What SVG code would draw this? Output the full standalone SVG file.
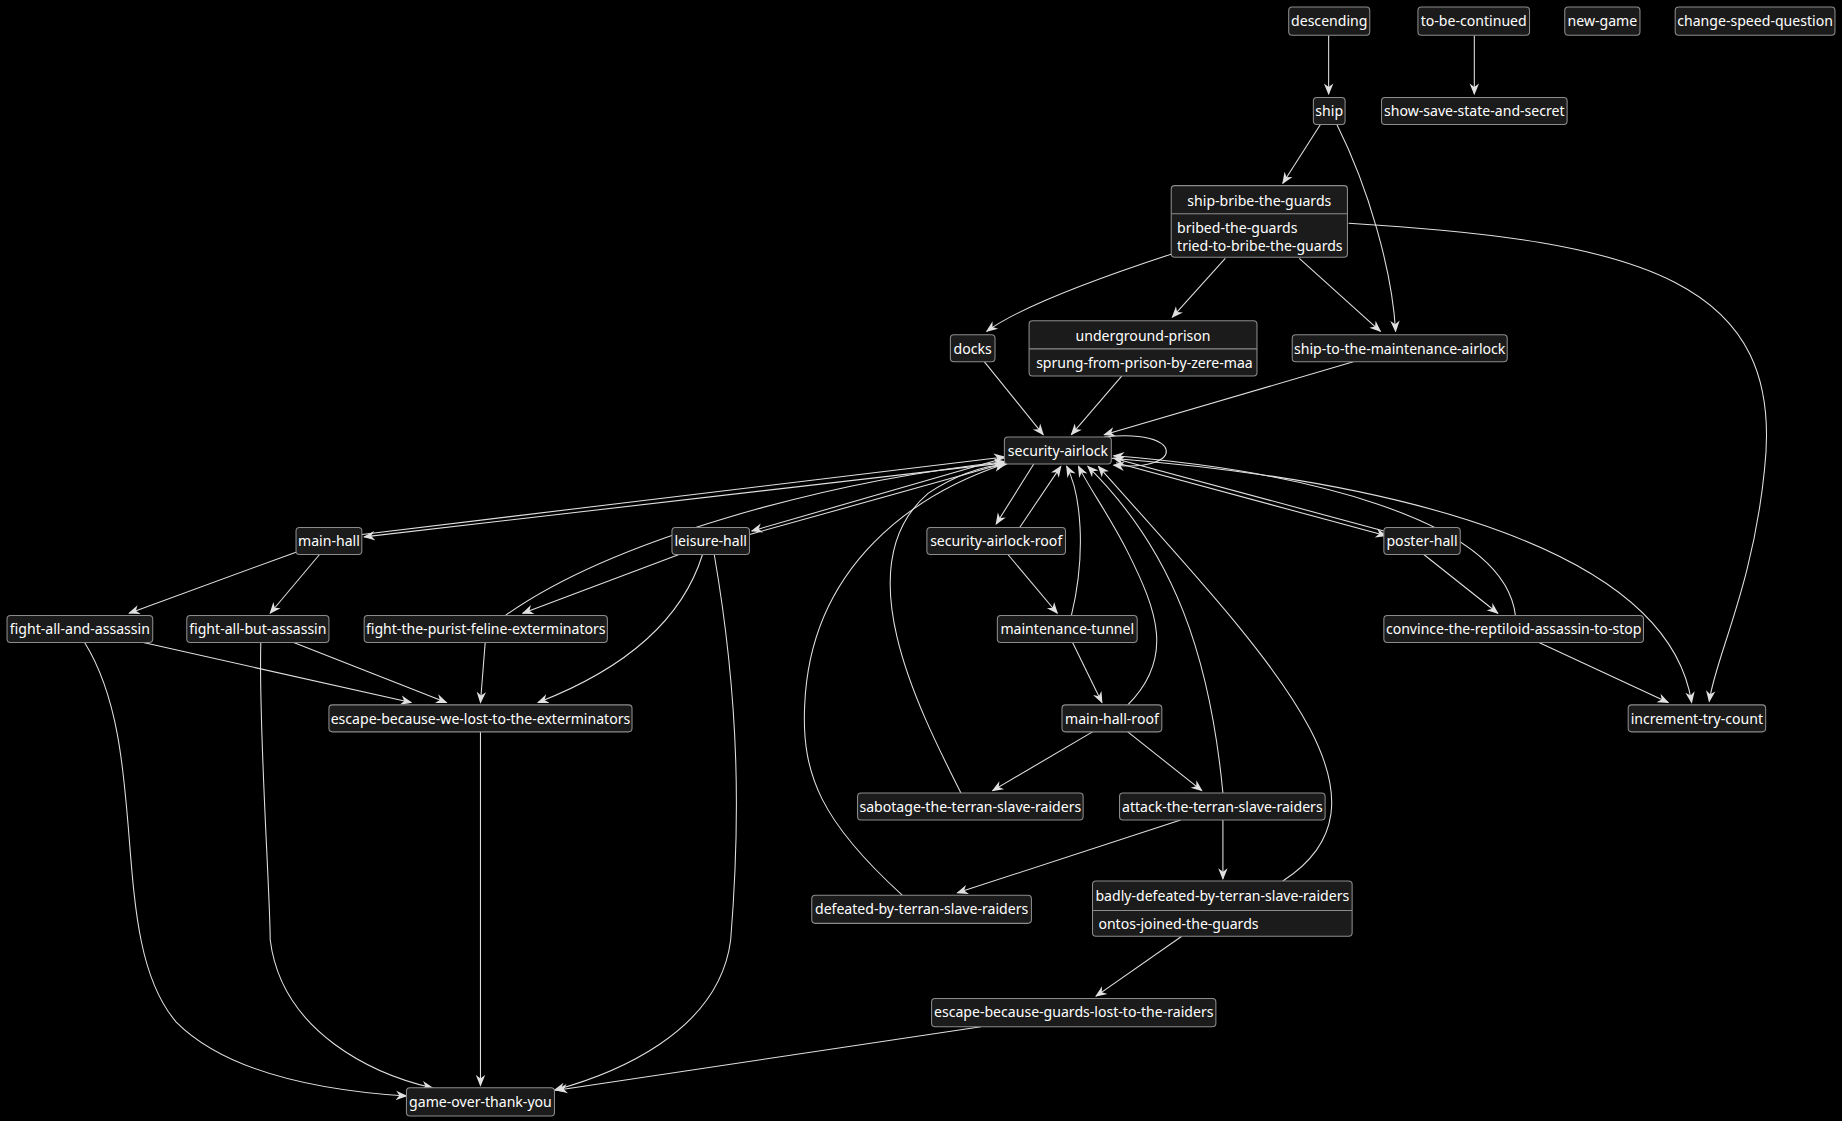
<svg xmlns="http://www.w3.org/2000/svg" width="1842" height="1121" viewBox="0 0 1842 1121">
<style>
.n rect{fill:#1b1b1b;stroke:#8c8c8c;stroke-width:0.9}
.n line{stroke:#8c8c8c;stroke-width:0.9}
.n text{fill:#ffffff;font-family:"Noto Sans","DejaVu Sans",sans-serif;font-size:12px}
.c{text-anchor:middle}
#edges path{fill:none;stroke:#e0e0e0;stroke-width:0.9;marker-end:url(#a)}
</style>
<defs>
<marker id="a" viewBox="0 0 10 10" refX="9" refY="5" markerWidth="10" markerHeight="10" markerUnits="userSpaceOnUse" orient="auto">
<path d="M0,1 L10,5 L0,9 L3,5 Z" fill="#e0e0e0"/>
</marker>
</defs>
<rect width="1842" height="1121" fill="#000"/>
<g transform="scale(1.17475)">
<g id="edges">
<path d="M1131,30 L1131,80"/>
<path d="M1255,30 L1255,80"/>
<path d="M1124,106 L1092,156"/>
<path d="M1138,106 C1165,160 1185,230 1188,282"/>
<path d="M998,216 C940,235 870,260 840,282"/>
<path d="M1043,220 L998,270"/>
<path d="M1106,220 L1175,282"/>
<path d="M1148,190 C1400,205 1520,240 1502,400 C1492,500 1460,560 1455,597"/>
<path d="M838,308 L888,370"/>
<path d="M955,320 L912,370"/>
<path d="M1152,308 L940,370"/>
<path d="M940,372 C1008,364 1010,402 948,396"/>
<path d="M308,455 L855,389"/>
<path d="M855,394 L310,457"/>
<path d="M638,455 L857,394"/>
<path d="M858,389 L640,452"/>
<path d="M880,395 L848,446"/>
<path d="M868,449 L903,397"/>
<path d="M1178,452 L948,390"/>
<path d="M950,394 L1180,456"/>
<path d="M252,470 L110,522"/>
<path d="M272,472 L230,522"/>
<path d="M578,472 L445,522"/>
<path d="M598,472 C580,530 530,570 458,598"/>
<path d="M608,472 C630,600 630,700 622,800 C612,880 520,915 472,928"/>
<path d="M430,524 C520,460 700,410 855,393"/>
<path d="M413,547 L409,598"/>
<path d="M122,547 L350,598"/>
<path d="M250,547 L380,598"/>
<path d="M72,547 C130,640 90,800 150,870 C200,920 300,930 346,933"/>
<path d="M222,547 C220,620 230,760 230,800 C240,880 320,915 368,926"/>
<path d="M409,623 L409,924"/>
<path d="M835,874 L474,928"/>
<path d="M858,472 L900,522"/>
<path d="M912,524 C925,470 920,420 908,397"/>
<path d="M913,547 L938,598"/>
<path d="M960,600 C1000,560 985,520 960,470 C945,440 930,420 918,397"/>
<path d="M930,623 L845,673"/>
<path d="M960,623 L1023,673"/>
<path d="M818,675 C780,600 720,480 790,420 C820,400 845,396 857,395"/>
<path d="M1041,675 C1030,560 1000,470 926,397"/>
<path d="M1005,698 L815,760"/>
<path d="M1041,698 L1041,748"/>
<path d="M768,762 C700,700 682,660 685,600 C690,480 780,420 855,395"/>
<path d="M1092,750 C1200,680 1080,560 935,397"/>
<path d="M1006,797 L933,848"/>
<path d="M1212,472 L1275,522"/>
<path d="M1290,524 C1280,440 1100,400 948,388"/>
<path d="M1310,547 L1420,598"/>
<path d="M946,390 C1200,410 1420,470 1440,598"/>
</g>
<g id="descending" class="n"><rect x="1097" y="6" width="69" height="24" rx="3"/><text x="1131.5" y="22.5" class="c">descending</text></g>
<g id="to-be-continued" class="n"><rect x="1207" y="6" width="95" height="24" rx="3"/><text x="1254.5" y="22.5" class="c">to-be-continued</text></g>
<g id="new-game" class="n"><rect x="1332" y="6" width="64" height="24" rx="3"/><text x="1364" y="22.5" class="c">new-game</text></g>
<g id="change-speed-question" class="n"><rect x="1426" y="6" width="136" height="24" rx="3"/><text x="1494" y="22.5" class="c">change-speed-question</text></g>
<g id="ship" class="n"><rect x="1118" y="83" width="27" height="23" rx="3"/><text x="1131.5" y="99" class="c">ship</text></g>
<g id="show-save-state-and-secret" class="n"><rect x="1176" y="83" width="158" height="23" rx="3"/><text x="1255" y="99" class="c">show-save-state-and-secret</text></g>
<g id="ship-bribe-the-guards" class="n"><rect x="997" y="158" width="150" height="61" rx="3"/><line x1="997" y1="182" x2="1147" y2="182"/><text x="1072" y="175" class="c">ship-bribe-the-guards</text><text x="1002" y="198">bribed-the-guards</text><text x="1002" y="214">tried-to-bribe-the-guards</text></g>
<g id="docks" class="n"><rect x="809" y="285" width="38" height="23" rx="3"/><text x="828" y="301" class="c">docks</text></g>
<g id="underground-prison" class="n"><rect x="876" y="273" width="194" height="47" rx="3"/><line x1="876" y1="297" x2="1070" y2="297"/><text x="973" y="290" class="c">underground-prison</text><text x="882" y="313">sprung-from-prison-by-zere-maa</text></g>
<g id="ship-to-the-maintenance-airlock" class="n"><rect x="1100" y="285" width="183" height="23" rx="3"/><text x="1191.5" y="301" class="c">ship-to-the-maintenance-airlock</text></g>
<g id="security-airlock" class="n"><rect x="855" y="372" width="91" height="23" rx="3"/><text x="900.5" y="388" class="c">security-airlock</text></g>
<g id="main-hall" class="n"><rect x="252" y="449" width="56" height="23" rx="3"/><text x="280" y="465" class="c">main-hall</text></g>
<g id="leisure-hall" class="n"><rect x="572" y="449" width="66" height="23" rx="3"/><text x="605" y="465" class="c">leisure-hall</text></g>
<g id="security-airlock-roof" class="n"><rect x="789" y="449" width="118" height="23" rx="3"/><text x="848" y="465" class="c">security-airlock-roof</text></g>
<g id="poster-hall" class="n"><rect x="1178" y="449" width="65" height="23" rx="3"/><text x="1210.5" y="465" class="c">poster-hall</text></g>
<g id="fight-all-and-assassin" class="n"><rect x="6" y="524" width="124" height="23" rx="3"/><text x="68" y="540" class="c">fight-all-and-assassin</text></g>
<g id="fight-all-but-assassin" class="n"><rect x="159" y="524" width="121" height="23" rx="3"/><text x="219.5" y="540" class="c">fight-all-but-assassin</text></g>
<g id="fight-the-purist-feline-exterminators" class="n"><rect x="310" y="524" width="207" height="23" rx="3"/><text x="413.5" y="540" class="c">fight-the-purist-feline-exterminators</text></g>
<g id="maintenance-tunnel" class="n"><rect x="849" y="524" width="119" height="23" rx="3"/><text x="908.5" y="540" class="c">maintenance-tunnel</text></g>
<g id="convince-the-reptiloid-assassin-to-stop" class="n"><rect x="1178" y="524" width="221" height="23" rx="3"/><text x="1288.5" y="540" class="c">convince-the-reptiloid-assassin-to-stop</text></g>
<g id="escape-because-we-lost-to-the-exterminators" class="n"><rect x="280" y="600" width="258" height="23" rx="3"/><text x="409" y="616" class="c">escape-because-we-lost-to-the-exterminators</text></g>
<g id="main-hall-roof" class="n"><rect x="904" y="600" width="85" height="23" rx="3"/><text x="946.5" y="616" class="c">main-hall-roof</text></g>
<g id="increment-try-count" class="n"><rect x="1386" y="600" width="117" height="23" rx="3"/><text x="1444.5" y="616" class="c">increment-try-count</text></g>
<g id="sabotage-the-terran-slave-raiders" class="n"><rect x="730" y="675" width="192" height="23" rx="3"/><text x="826" y="691" class="c">sabotage-the-terran-slave-raiders</text></g>
<g id="attack-the-terran-slave-raiders" class="n"><rect x="953" y="675" width="175" height="23" rx="3"/><text x="1040.5" y="691" class="c">attack-the-terran-slave-raiders</text></g>
<g id="defeated-by-terran-slave-raiders" class="n"><rect x="691" y="762" width="187" height="24" rx="3"/><text x="784.5" y="778" class="c">defeated-by-terran-slave-raiders</text></g>
<g id="badly-defeated-by-terran-slave-raiders" class="n"><rect x="930" y="750" width="221" height="47" rx="3"/><line x1="930" y1="775" x2="1151" y2="775"/><text x="1040.5" y="767" class="c">badly-defeated-by-terran-slave-raiders</text><text x="935" y="791">ontos-joined-the-guards</text></g>
<g id="escape-because-guards-lost-to-the-raiders" class="n"><rect x="793" y="850" width="242" height="24" rx="3"/><text x="914" y="866" class="c">escape-because-guards-lost-to-the-raiders</text></g>
<g id="game-over-thank-you" class="n"><rect x="346" y="926" width="126" height="24" rx="3"/><text x="409" y="942" class="c">game-over-thank-you</text></g>
</g>
</svg>
